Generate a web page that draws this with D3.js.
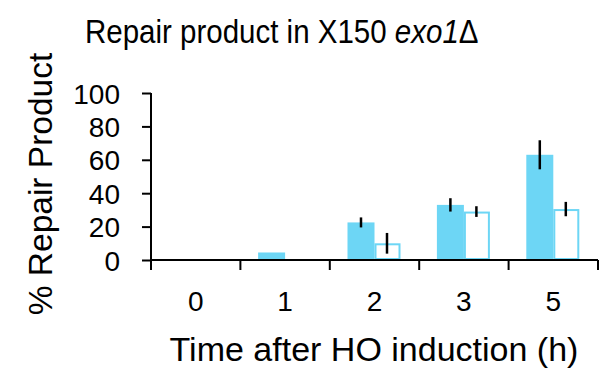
<!DOCTYPE html>
<html>
<head>
<meta charset="utf-8">
<script src="https://cdn.jsdelivr.net/npm/d3@7"></script>
<style>
  body { margin: 0; background: #fff; }
  text { font-family: "Liberation Sans", Arial, sans-serif; fill: #000; }
</style>
</head>
<body>
<script>
// data
var categories = ["0", "1", "2", "3", "5"];
var filledValues = [0, 4.5, 22.5, 33, 63];
var filledErrors = [0, 0, 3, 4, 8.7];
var openValues = [0, 0, 10, 29, 30.5];
var openErrors = [0, 0, 6.2, 3.2, 4.3];
var yTicks = [0, 20, 40, 60, 80, 100];

function main() {
    var width = 599, height = 375;
    var blue = "#6dd6f5";

    var svg = d3.select("body").append("svg")
        .attr("width", width).attr("height", height);

    var x = d3.scaleBand().domain(categories).range([151, 598]).padding(0);
    var y = d3.scaleLinear().domain([0, 100]).range([260, 93]);
    var x1 = d3.scaleBand().domain(["filled", "open"]).range([-27, 27]);

    // y axis
    var yAxis = svg.append("g")
        .attr("transform", "translate(151,0)")
        .call(d3.axisLeft(y).tickValues(yTicks).tickSize(9).tickPadding(22));
    yAxis.select(".domain").attr("stroke", "#000").attr("stroke-width", 2)
        .attr("d", "M0," + y(100) + "V" + y(0));
    yAxis.selectAll(".tick line").attr("stroke", "#000").attr("stroke-width", 2);
    yAxis.selectAll(".tick text").attr("font-size", "28px")
        .attr("font-family", "Liberation Sans, Arial, sans-serif").attr("dy", "0.36em");

    // x axis: labels at band centres, ticks at band edges
    var xAxis = svg.append("g")
        .attr("transform", "translate(0,260)")
        .call(d3.axisBottom(x).tickSize(0).tickPadding(31));
    xAxis.select(".domain").attr("stroke", "#000").attr("stroke-width", 2)
        .attr("d", "M151,0H598");
    xAxis.selectAll(".tick text").attr("font-size", "28px")
        .attr("font-family", "Liberation Sans, Arial, sans-serif").attr("dy", "0.71em");

    var edges = categories.map(function(d) { return x(d); }).concat([x.range()[1]]);
    xAxis.selectAll("line.edge")
        .data(edges)
        .enter()
        .append("line")
        .attr("class", "edge")
        .attr("x1", function(d) { return d; })
        .attr("x2", function(d) { return d; })
        .attr("y1", 0)
        .attr("y2", 10)
        .attr("stroke", "#000")
        .attr("stroke-width", 2);

    function centre(i) { return x(categories[i]) + x.bandwidth() / 2; }

    var filled = filledValues.map(function(v, i) { return { i: i, v: v, e: filledErrors[i], k: "filled" }; });
    var open = openValues.map(function(v, i) { return { i: i, v: v, e: openErrors[i], k: "open" }; });

    svg.selectAll("rect.filled")
        .data(filled.filter(function(d) { return d.v > 0; }))
        .enter()
        .append("rect")
        .attr("class", "filled")
        .attr("x", function(d) { return centre(d.i) + x1("filled"); })
        .attr("y", function(d) { return y(d.v); })
        .attr("width", x1.bandwidth())
        .attr("height", function(d) { return y(0) - y(d.v); })
        .attr("fill", blue);

    svg.selectAll("rect.open")
        .data(open.filter(function(d) { return d.v > 0; }))
        .enter()
        .append("rect")
        .attr("class", "open")
        .attr("x", function(d) { return centre(d.i) + x1("open") + 1; })
        .attr("y", function(d) { return y(d.v) + 1; })
        .attr("width", x1.bandwidth() - 3)
        .attr("height", function(d) { return y(0) - y(d.v) - 2; })
        .attr("fill", "#fff")
        .attr("stroke", blue)
        .attr("stroke-width", 2);

    // error bars
    svg.selectAll("line.err")
        .data(filled.concat(open).filter(function(d) { return d.e > 0; }))
        .enter()
        .append("line")
        .attr("class", "err")
        .attr("x1", function(d) { return centre(d.i) + x1(d.k) + x1.bandwidth() / 2 - (d.k == "open" ? 1 : 0); })
        .attr("x2", function(d) { return centre(d.i) + x1(d.k) + x1.bandwidth() / 2 - (d.k == "open" ? 1 : 0); })
        .attr("y1", function(d) { return y(d.v + d.e); })
        .attr("y2", function(d) { return y(d.v - d.e); })
        .attr("stroke", "#000")
        .attr("stroke-width", 2.5);

    // redraw x axis line on top of bars
    svg.append("line")
        .attr("x1", 151).attr("x2", 598).attr("y1", 260).attr("y2", 260)
        .attr("stroke", "#000").attr("stroke-width", 2);

    // title (slightly taller glyphs, as in the original)
    var title = svg.append("text")
        .attr("transform", "translate(85,43) scale(1,1.1)")
        .attr("font-size", "29.5px");
    title.append("tspan").text("Repair product in X150 ");
    title.append("tspan").attr("font-style", "italic").text("exo1");
    title.append("tspan").text("\u0394");

    // axis titles
    svg.append("text")
        .attr("x", 374)
        .attr("y", 361)
        .attr("text-anchor", "middle")
        .attr("font-size", "34px")
        .text("Time after HO induction (h)");

    svg.append("text")
        .attr("transform", "translate(52,184) rotate(-90)")
        .attr("text-anchor", "middle")
        .attr("font-size", "33.5px")
        .text("% Repair Product");
}

window.onload = main;
</script>
</body>
</html>
